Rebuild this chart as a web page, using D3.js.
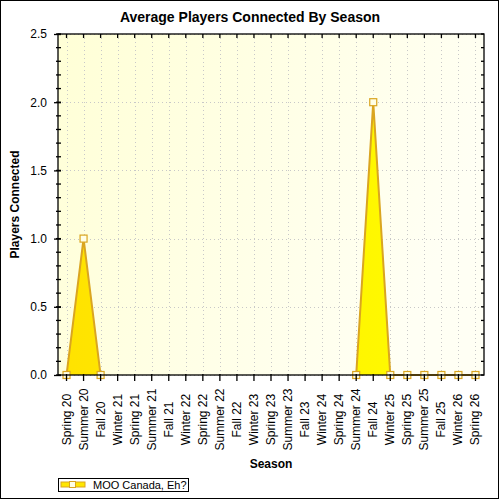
<!DOCTYPE html>
<html><head><meta charset="utf-8">
<script src="https://cdn.jsdelivr.net/npm/d3@7"></script>
<style>body{margin:0;background:#fff}svg{display:block}text{font-family:"Liberation Sans",Arial,sans-serif}</style>
</head><body><svg id="c" width="500" height="500"></svg>
<script>
const categories = ["Spring 20","Summer 20","Fall 20","Winter 21","Spring 21","Summer 21","Fall 21","Winter 22","Spring 22","Summer 22","Fall 22","Winter 23","Spring 23","Summer 23","Fall 23","Winter 24","Spring 24","Summer 24","Fall 24","Winter 25","Spring 25","Summer 25","Fall 25","Winter 26","Spring 26"];
const seriesName = "MOO Canada, Eh?";
const playersConnected = [0,1,0,null,null,null,null,null,null,null,null,null,null,null,null,null,null,0,2,0,0,0,0,0,0];
const yTicks = [0,0.5,1,1.5,2,2.5];
const yMinorTicks = d3.range(0,26).map(i=>i/10);
const titleText = "Average Players Connected By Season";
const xTitle = "Season", yTitle = "Players Connected";

const svg = d3.select("#c");
const L=58,R=484,T=34,B=375;
const x = d3.scalePoint().domain(categories).range([L,R]).padding(0.5);
const y = d3.scaleLinear().domain([0,2.5]).range([B,T]);

const defs = svg.append("defs");
const bg = defs.append("linearGradient").attr("id","bg").attr("x1",0).attr("y1",0).attr("x2",1).attr("y2",0.3);
bg.append("stop").attr("offset",0).attr("stop-color","#ffffd6");
bg.append("stop").attr("offset",1).attr("stop-color","#fffff4");
const ag = defs.append("linearGradient").attr("id","ag").attr("gradientUnits","userSpaceOnUse").attr("x1",L).attr("y1",0).attr("x2",R).attr("y2",0);
ag.append("stop").attr("offset",0).attr("stop-color","#ffe200");
ag.append("stop").attr("offset",1).attr("stop-color","#ffff00");

svg.append("rect").attr("x",0.5).attr("y",0.5).attr("width",498).attr("height",498).attr("fill","#fff").attr("stroke","#000");
svg.append("rect").attr("x",L).attr("y",T).attr("width",R-L).attr("height",B-T).attr("fill","url(#bg)");

// grid
const g = svg.append("g").attr("stroke","#c8c8c8").attr("stroke-dasharray","1,3");
g.selectAll(".vx").data(categories).join("line").attr("x1",d=>Math.round(x(d))+0.5).attr("x2",d=>Math.round(x(d))+0.5).attr("y1",T).attr("y2",B);
g.selectAll(".hy").data(yTicks).join("line").attr("y1",d=>Math.round(y(d))+0.5).attr("y2",d=>Math.round(y(d))+0.5).attr("x1",L).attr("x2",R);

// series
const pts = categories.map((c,i)=>({c,v:playersConnected[i]}));
const area = d3.area().defined(d=>d.v!=null).x(d=>x(d.c)).y0(y(0)).y1(d=>y(d.v));
const line = d3.line().defined(d=>d.v!=null).x(d=>x(d.c)).y(d=>y(d.v));
svg.append("path").datum(pts).attr("d",area).attr("fill","url(#ag)");
svg.append("path").datum(pts).attr("d",line).attr("fill","none").attr("stroke","#daa520").attr("stroke-width",2);
svg.selectAll(".mk").data(pts.filter(d=>d.v!=null)).join("rect")
  .attr("x",d=>x(d.c)-3.5).attr("y",d=>y(d.v)-3.5).attr("width",7).attr("height",7)
  .attr("fill","#ffffe6").attr("stroke","#daa520").attr("stroke-width",1.2);

// frame
svg.append("rect").attr("x",L).attr("y",T).attr("width",R-L).attr("height",B-T).attr("fill","none").attr("stroke","#000").attr("stroke-width",1.3);

// x axis
const xa = svg.append("g").attr("transform",`translate(0,${B})`)
  .call(d3.axisBottom(x).tickSize(6).tickSizeOuter(0).tickPadding(0));
xa.select(".domain").remove();
xa.selectAll("line").attr("stroke","#000").attr("stroke-width",1.3);
xa.selectAll("text").attr("transform",null).text(d=>d)
  .attr("font-size",12).attr("fill","#000").attr("text-anchor","middle").attr("dy",null).attr("y",null)
  .attr("transform",function(d){return `translate(${x(d)},${419.5-B}) rotate(-90)`;}).attr("x",0).attr("dominant-baseline","central");
xa.selectAll(".tick").attr("transform",function(d){return `translate(0,0)`;});
xa.selectAll(".tick line").attr("x1",d=>x(d)).attr("x2",d=>x(d)).attr("y1",-1).attr("y2",6);
// top ticks
svg.selectAll(".tt").data(categories).join("line").attr("x1",d=>x(d)).attr("x2",d=>x(d)).attr("y1",T).attr("y2",T+4).attr("stroke","#000").attr("stroke-width",1.3);

// y axis
const ya = svg.append("g").attr("transform",`translate(${L},0)`)
  .call(d3.axisLeft(y).tickValues(yTicks).tickFormat(d3.format(".1f")).tickSize(4).tickPadding(7));
ya.select(".domain").remove();
ya.selectAll("line").attr("stroke","#000").attr("stroke-width",1.3).attr("x2",-4).attr("x1",3);
ya.selectAll("text").attr("font-size",12).attr("fill","#000").attr("font-family",null);
svg.selectAll(".ym").data(yMinorTicks).join("line").attr("x1",L-2).attr("x2",L+3).attr("y1",d=>y(d)).attr("y2",d=>y(d)).attr("stroke","#000").attr("stroke-width",1.3);
svg.selectAll(".yr").data(yMinorTicks).join("line").attr("x1",R-3).attr("x2",R).attr("y1",d=>y(d)).attr("y2",d=>y(d)).attr("stroke","#000").attr("stroke-width",1.3);

// titles
svg.append("text").attr("x",250).attr("y",22).attr("text-anchor","middle").attr("font-size",14).attr("font-weight","bold").text(titleText);
svg.append("text").attr("x",(L+R)/2).attr("y",468).attr("text-anchor","middle").attr("font-size",12).attr("font-weight","bold").text(xTitle);
svg.append("text").attr("transform",`translate(19,${(T+B)/2}) rotate(-90)`).attr("text-anchor","middle").attr("font-size",12).attr("font-weight","bold").text(yTitle);

// legend
svg.append("rect").attr("x",58.5).attr("y",478.5).attr("width",130).attr("height",13).attr("fill","#fff").attr("stroke","#000");
svg.append("rect").attr("x",61).attr("y",482).attr("width",24).attr("height",5).attr("fill","#ffe600").attr("stroke","#daa520").attr("stroke-width",1);
svg.append("rect").attr("x",69.5).attr("y",481.5).attr("width",6).attr("height",6).attr("fill","#ffffe6").attr("stroke","#daa520");
svg.append("text").attr("x",93).attr("y",489).attr("font-size",11).attr("fill","#000").text(seriesName);
</script></body></html>
